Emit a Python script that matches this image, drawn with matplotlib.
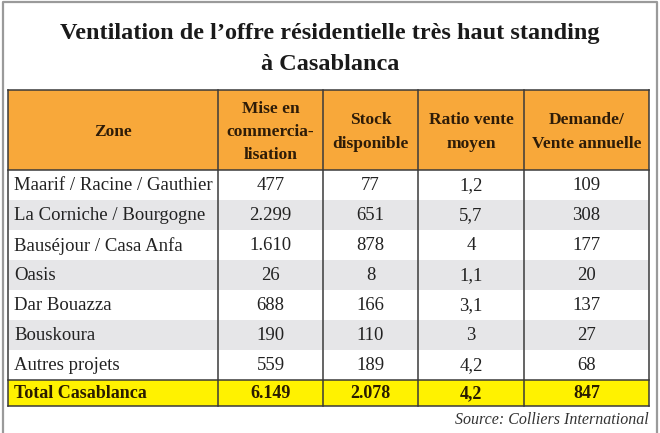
import matplotlib.pyplot as plt
from matplotlib.patches import Rectangle

title_lines = ["Ventilation de l\u2019offre résidentielle très haut standing",
               "à Casablanca"]
headers = ["Zone", "Mise en\ncommercia-\nlisation", "Stock\ndisponible",
           "Ratio vente\nmoyen", "Demande/\nVente annuelle"]
zones = ["Maarif / Racine / Gauthier", "La Corniche / Bourgogne",
         "Bauséjour / Casa Anfa", "Oasis", "Dar Bouazza", "Bouskoura",
         "Autres projets"]
mise = ["477", "2.299", "1.610", "26", "688", "190", "559"]
stock = ["77", "651", "878", "8", "166", "110", "189"]
ratio = ["1,2", "5,7", "4", "1,1", "3,1", "3", "4,2"]
demande = ["109", "308", "177", "20", "137", "27", "68"]
total = ["Total Casablanca", "6.149", "2.078", "4,2", "847"]
source = "Source: Colliers International"

# layout in pixels
col_x = [8, 218, 323, 418, 524, 649]
head_top, head_bot = 90, 170
row_h = 30
total_bot = 406

plt.rcParams['font.family'] = ['Liberation Serif', 'DejaVu Serif']

fig = plt.figure(figsize=(6.6, 4.33), dpi=100)
ax = fig.add_axes([0, 0, 1, 1])
ax.set_xlim(0, 660)
ax.set_ylim(433, 0)
ax.axis('off')

# outer frame
ax.plot([2.5, 2.5, 656.5, 656.5], [434, 1.5, 1.5, 434], color='#9a9a9a', lw=1.6)

for i, line in enumerate(title_lines):
    ax.text(330, 33 + i * 31, line, ha='center', va='center', fontsize=17.5,
            fontweight='bold', color='#1a1a1a')

# header
ax.add_patch(Rectangle((col_x[0], head_top), col_x[-1] - col_x[0],
                       head_bot - head_top, facecolor='#f8a83a', edgecolor='none'))
for i, h in enumerate(headers):
    cx = (col_x[i] + col_x[i + 1]) / 2
    ax.text(cx, (head_top + head_bot) / 2 + 2, h, ha='center', va='center',
            fontsize=12.5, fontweight='bold', color='#2e1c08', linespacing=1.6)

# body rows
cols = [zones, mise, stock, ratio, demande]
for r in range(len(zones)):
    y0 = head_bot + r * row_h
    if r % 2 == 1:
        ax.add_patch(Rectangle((col_x[0], y0), col_x[-1] - col_x[0], row_h,
                               facecolor='#e6e6e8', edgecolor='none'))
    for c in range(5):
        if c == 0:
            ax.text(col_x[0] + 6, y0 + row_h / 2 + 1, cols[c][r], ha='left',
                    va='center', fontsize=13.5, color='#222222')
        else:
            cx = (col_x[c] + col_x[c + 1]) / 2
            ax.text(cx, y0 + row_h / 2 + 1, cols[c][r], ha='center',
                    va='center', fontsize=13.5, color='#222222')

# total row
tot_top = head_bot + len(zones) * row_h
ax.add_patch(Rectangle((col_x[0], tot_top), col_x[-1] - col_x[0],
                       total_bot - tot_top, facecolor='#fff200', edgecolor='none'))
for c, t in enumerate(total):
    if c == 0:
        ax.text(col_x[0] + 6, (tot_top + total_bot) / 2 + 1, t, ha='left',
                va='center', fontsize=13, fontweight='bold', color='#2a1c00')
    else:
        cx = (col_x[c] + col_x[c + 1]) / 2
        ax.text(cx, (tot_top + total_bot) / 2 + 1, t, ha='center',
                va='center', fontsize=13, fontweight='bold', color='#2a1c00')

# grid lines
line_c = '#3a3a3a'
for x in col_x:
    ax.plot([x, x], [head_top, total_bot], color=line_c, lw=1.1)
for y in [head_top, head_bot, tot_top, total_bot]:
    ax.plot([col_x[0], col_x[-1]], [y, y], color=line_c, lw=1.1)

ax.text(col_x[-1], 420, source, ha='right', va='center', fontsize=11.5,
        style='italic', color='#333333')

fig.savefig('out.png', dpi=100)
